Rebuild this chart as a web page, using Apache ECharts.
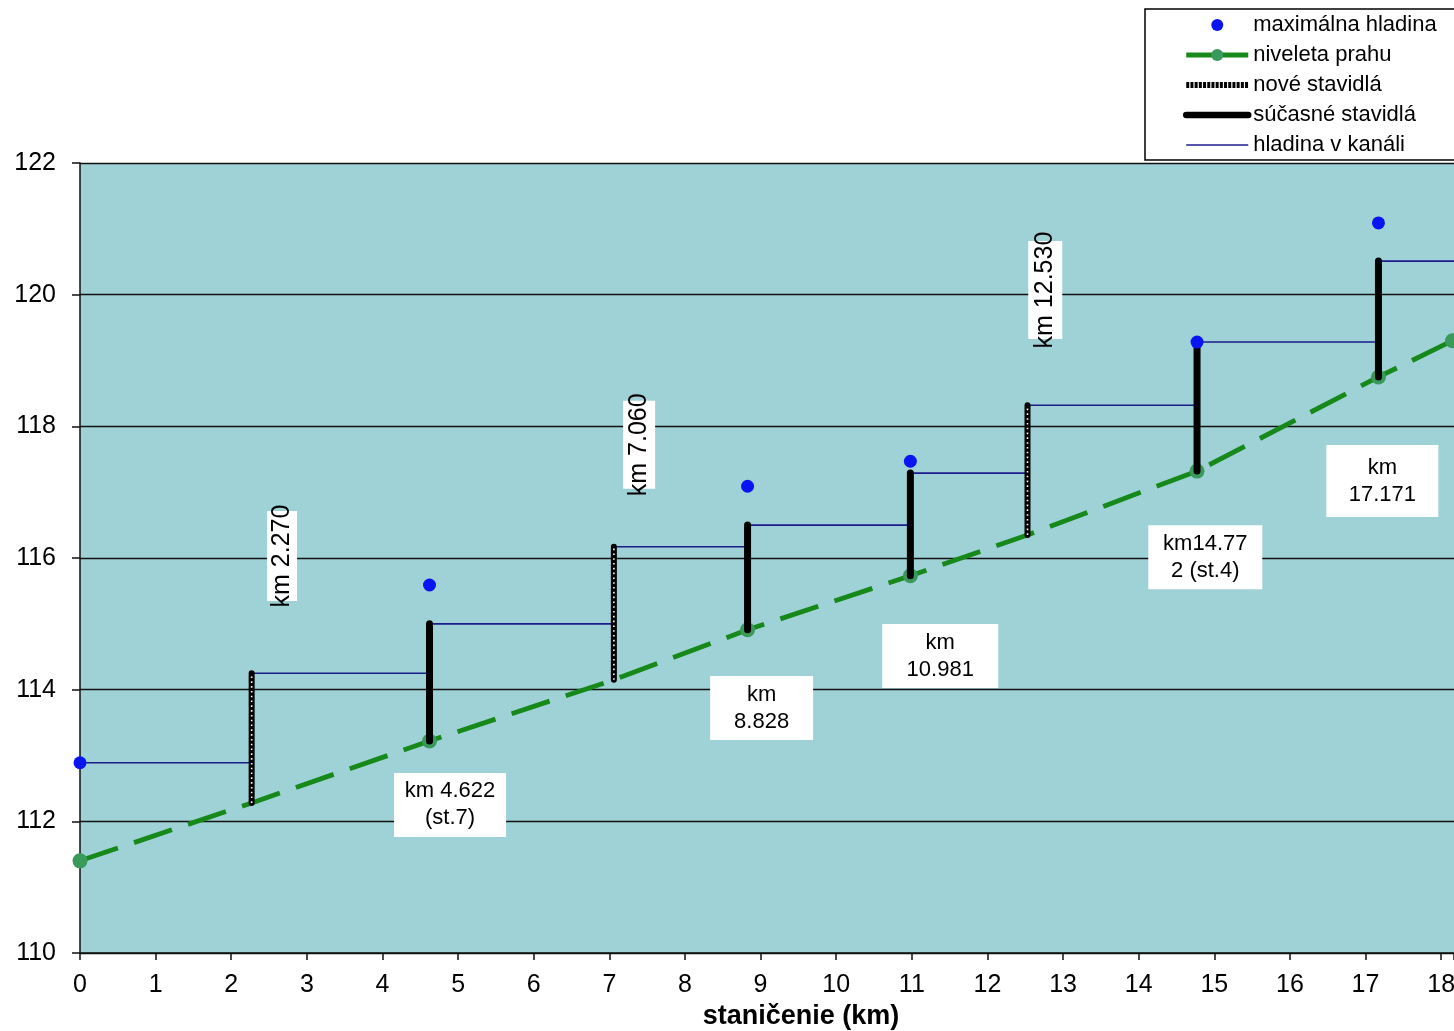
<!DOCTYPE html>
<html>
<head>
<meta charset="utf-8">
<script src="https://cdn.jsdelivr.net/npm/echarts@6/dist/echarts.min.js"></script>
<style>
html,body{margin:0;padding:0;background:#fff;overflow:hidden;}
#chart{width:1454px;height:1031px;}
</style>
</head>
<body>
<div id="chart"></div>
<script>
// ---- data ----
const stations      = [0, 2.270, 4.622, 7.060, 8.828, 10.981, 12.530, 14.772, 17.171];
const endStation    = 18.15;
const axisEnd       = 18.17;
const sillLevel     = [111.40, 112.28, 113.22, 114.15, 114.91, 115.73, 116.35, 117.32, 118.75, 119.30]; // niveleta prahu (last = endStation)
const canalLevel    = [112.89, 114.25, 115.00, 116.17, 116.50, 117.29, 118.32, 119.28, 120.51]; // hladina v kanáli, reach starting at station i
const maxStations   = [0, 4.622, 8.828, 10.981, 14.772, 17.171];
const maxLevel      = [112.89, 115.59, 117.09, 117.47, 119.28, 121.09];
const newGates      = [2.270, 7.060, 12.530];
const currentGates  = [4.622, 8.828, 10.981, 14.772, 17.171];
const xTicks        = [0, 18, 1];     // min, max label, interval
const yTicks        = [110, 122, 2];
const noteX    = [2.672, 7.394, 12.765, 4.894, 9.014, 11.376, 14.881, 17.222];
const noteY    = [116.03, 117.72, 120.07, 112.25, 113.72, 114.51, 116.01, 117.17];
const noteText = ['km 2.270', 'km 7.060', 'km 12.530', 'km 4.622\n(st.7)', 'km\n8.828', 'km\n10.981', 'km14.77\n2 (st.4)', 'km\n17.171'];

// ---- styles ----
const FONT = "'Liberation Sans', Arial, sans-serif";
const noteStyle = [
  {rot: 90, w: 90, h: 30, fs: 25}, {rot: 90, w: 88, h: 32, fs: 25}, {rot: 90, w: 98, h: 34, fs: 25},
  {rot: 0, w: 112, h: 64, fs: 22}, {rot: 0, w: 103, h: 64, fs: 22}, {rot: 0, w: 116, h: 64, fs: 22},
  {rot: 0, w: 114, h: 64, fs: 22}, {rot: 0, w: 112, h: 72, fs: 22}
];

// ---- build series ----
const sillX = stations.concat([endStation]);
const sillData = sillX.map((x, i) => {
  const hide = newGates.indexOf(x) >= 0;
  return hide ? {value: [x, sillLevel[i]], symbol: 'none'} : [x, sillLevel[i]];
});

const canalData = [];
stations.forEach((x, i) => {
  const next = i + 1 < stations.length ? stations[i + 1] : axisEnd;
  canalData.push([x, canalLevel[i]]);
  canalData.push([next, canalLevel[i]]);
});

function gateLine(x) {
  const i = stations.indexOf(x);
  return [[x, sillLevel[i]], [x, canalLevel[i]]];
}

const series = [];
series.push({
  name: 'hladina v kanáli', type: 'line', data: canalData, symbol: 'none',
  lineStyle: {color: '#1c1c8c', width: 1.6}, z: 2, silent: true
});
series.push({
  name: 'niveleta prahu', type: 'line', data: sillData, symbol: 'circle', symbolSize: 15,
  showAllSymbol: true,
  itemStyle: {color: '#3a9a5c'},
  lineStyle: {color: '#17891a', width: 4.8, type: [40, 17]}, z: 3
});
newGates.forEach(x => {
  series.push({
    name: 'nové stavidlá', type: 'line', data: gateLine(x), symbol: 'none',
    lineStyle: {color: '#000', width: 6, cap: 'round'}, z: 4
  });
});
newGates.forEach(x => {
  series.push({
    name: 'nové stavidlá', type: 'line', data: gateLine(x), symbol: 'none',
    lineStyle: {color: '#fff', width: 1.6, type: [1.6, 3.2]}, z: 5, silent: true
  });
});
currentGates.forEach(x => {
  series.push({
    name: 'súčasné stavidlá', type: 'line', data: gateLine(x), symbol: 'none',
    lineStyle: {color: '#000', width: 7, cap: 'round'}, z: 4
  });
});
series.push({
  name: 'maximálna hladina', type: 'line', data: maxStations.map((x, i) => [x, maxLevel[i]]),
  symbol: 'circle', symbolSize: 13, itemStyle: {color: '#0a14f0'},
  lineStyle: {width: 0, opacity: 0}, z: 6
});
series.push({
  name: 'notes', type: 'scatter', symbolSize: 1, itemStyle: {color: 'rgba(0,0,0,0)', opacity: 1},
  silent: true, z: 7, emphasis: {disabled: true},
  data: noteX.map((x, i) => ({
    value: [x, noteY[i]],
    label: {
      show: true, position: 'inside', formatter: noteText[i], opacity: 1,
      rotate: noteStyle[i].rot, width: noteStyle[i].w, height: noteStyle[i].h,
      align: 'center', verticalAlign: 'middle', lineHeight: 27,
      backgroundColor: '#ffffff', color: '#000', fontSize: noteStyle[i].fs, fontFamily: FONT, overflow: 'none'
    }
  }))
});

const chart = echarts.init(document.getElementById('chart'));
chart.setOption({
  animation: false,
  backgroundColor: '#fff',
  grid: {left: 80, top: 163, right: 0, bottom: 78, show: true, backgroundColor: '#9fd2d6', borderWidth: 0,
         outerBoundsMode: 'none', containLabel: false},
  legend: {
    orient: 'vertical', left: 1145, top: 9,
    padding: [5, 40, 4, 38],
    itemWidth: 62, itemHeight: 15, itemGap: 8,
    backgroundColor: '#fff', borderColor: '#000', borderWidth: 1.5,
    textStyle: {fontSize: 22, color: '#000', fontFamily: FONT},
    data: [
      {name: 'maximálna hladina'},
      {name: 'niveleta prahu', lineStyle: {type: 'solid', width: 4.8, color: '#17891a'}},
      {name: 'nové stavidlá', lineStyle: {type: [3, 1.2], width: 6, color: '#000', cap: 'butt'}, itemStyle: {opacity: 0}},
      {name: 'súčasné stavidlá', lineStyle: {width: 6.5, color: '#000', cap: 'round'}, itemStyle: {opacity: 0}},
      {name: 'hladina v kanáli', lineStyle: {width: 1.6, color: '#1c1c8c'}, itemStyle: {opacity: 0}}
    ]
  },
  xAxis: {
    type: 'value', min: xTicks[0], max: axisEnd, interval: xTicks[2],
    name: 'staničenie (km)', nameLocation: 'middle', nameGap: 50,
    nameTextStyle: {fontSize: 27, fontWeight: 'bold', color: '#000', fontFamily: FONT, padding: [0, 0, 0, 68]},
    axisLine: {show: true, onZero: false, lineStyle: {color: '#111', width: 1.5}},
    axisTick: {show: true, length: 7, lineStyle: {color: '#111', width: 1.5}},
    axisLabel: {
      fontSize: 25, color: '#000', fontFamily: FONT, margin: 20,
      formatter: v => (Number.isInteger(v) && v <= xTicks[1]) ? String(v) : ''
    },
    splitLine: {show: false}
  },
  yAxis: {
    type: 'value', min: yTicks[0], max: yTicks[1], interval: yTicks[2],
    axisLine: {show: true, lineStyle: {color: '#111', width: 1.5}},
    axisTick: {show: true, length: 8, lineStyle: {color: '#111', width: 1.5}},
    axisLabel: {fontSize: 25, color: '#000', fontFamily: FONT, margin: 24},
    splitLine: {show: true, lineStyle: {color: '#111', width: 1.3}}
  },
  series: series
});
</script>
</body>
</html>
